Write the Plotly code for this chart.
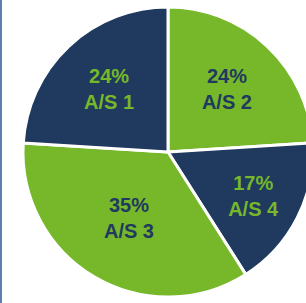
import plotly.graph_objects as go

labels = ["A/S 2", "A/S 4", "A/S 3", "A/S 1"]
values = [24, 17, 35, 24]
slice_colors = ["#76b82a", "#1f3a5e", "#76b82a", "#1f3a5e"]
text_colors = ["#1f3a5e", "#76b82a", "#1f3a5e", "#76b82a"]

W, H = 320, 303
cx, cy, r = 168, 152, 145  # pixel layout of the pie

fig = go.Figure(go.Pie(
    labels=labels,
    values=values,
    sort=False,
    direction="clockwise",
    rotation=0,
    marker=dict(colors=slice_colors, line=dict(color="white", width=3)),
    texttemplate="%{value}%<br>%{label}",
    textposition="inside",
    insidetextorientation="horizontal",
    insidetextfont=dict(color=text_colors, size=20, weight="bold",
                        family="Liberation Sans, Arial, sans-serif"),
    showlegend=False,
    hoverinfo="skip",
    domain=dict(x=[(cx - r) / W, (cx + r) / W], y=[(H - cy - r) / H, (H - cy + r) / H]),
))

fig.update_layout(
    width=W, height=H,
    margin=dict(l=0, r=0, t=0, b=0),
    paper_bgcolor="white",
    shapes=[dict(type="rect", xref="paper", yref="paper", x0=0, x1=2 / W, y0=0, y1=1,
                 fillcolor="#5b7fae", line=dict(width=0))],
)

fig.write_html("out.html", config={"displayModeBar": False},
               post_script="document.body.style.margin='0';document.body.style.overflow='hidden';")
